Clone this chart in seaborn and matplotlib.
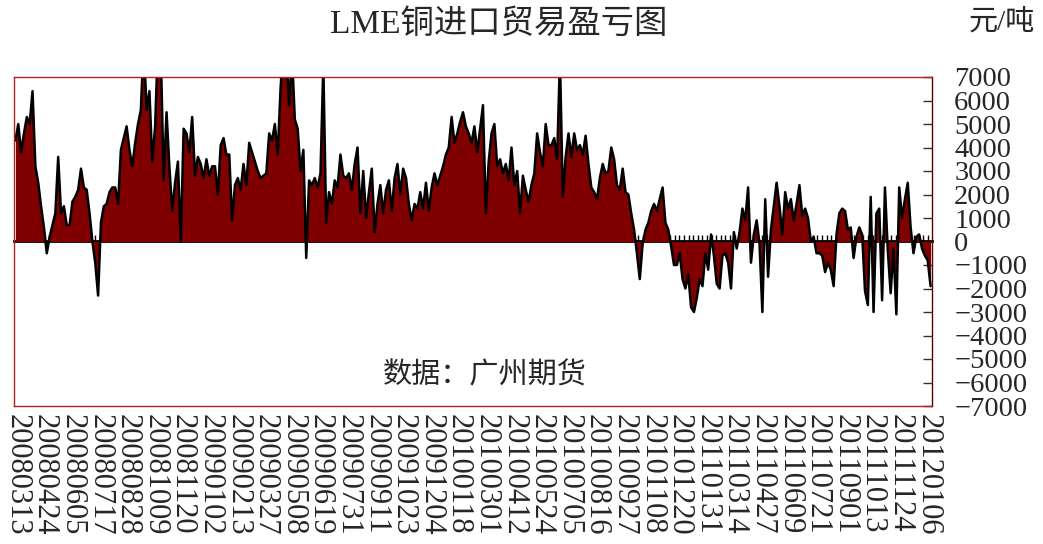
import numpy as np
import matplotlib
matplotlib.use('Agg')
import matplotlib.pyplot as plt
import seaborn as sns

# dates shown on the x axis (one every 30 trading days)
tick_dates = ['20080313', '20080424', '20080605', '20080717', '20080828', '20081009',
              '20081120', '20090102', '20090213', '20090327', '20090508', '20090619',
              '20090731', '20090911', '20091023', '20091204', '20100118', '20100301',
              '20100412', '20100524', '20100705', '20100816', '20100927', '20101108',
              '20101220', '20110131', '20110314', '20110427', '20110609', '20110721',
              '20110901', '20111013', '20111124', '20120106']

# import profit / loss, yuan per ton (about every 3 trading days)
profit = [
    4300, 5000, 3800, 4600, 5300, 5000, 6400, 3200, 2500, 1500,
    600, -500, 200, 700, 1200, 3600, 1200, 1500, 700, 700,
    1700, 1900, 2200, 3100, 2300, 2200, 1200, 0, -900, -2300,
    800, 1500, 1600, 2100, 2300, 2300, 1600, 3900, 4400, 4900,
    3900, 3200, 4200, 5000, 5600, 8500, 5600, 6400, 3400, 4900,
    8500, 8000, 2600, 5500, 3200, 1300, 2500, 3400, 0, 4800,
    4600, 3800, 5300, 2800, 3600, 3300, 2700, 3500, 2800, 3200,
    3200, 2000, 4100, 4400, 3700, 3700, 900, 2400, 2700, 2200,
    3300, 2400, 4200, 3800, 3400, 3000, 2700, 2800, 2900, 4600,
    4300, 5000, 3700, 6500, 8500, 8000, 5800, 8000, 5200, 4800,
    3000, 3900, -700, 2600, 2400, 2700, 2300, 2900, 7500, 800,
    2100, 1600, 2600, 2300, 3700, 2800, 2700, 2900, 2200, 3300,
    4000, 1200, 3000, 1000, 2100, 3100, 400, 1600, 2400, 1200,
    2200, 2600, 1300, 2700, 3300, 2000, 3100, 2700, 1600, 900,
    1600, 1400, 2100, 1400, 2500, 1300, 2300, 2900, 2400, 2800,
    3200, 3700, 4000, 5300, 4200, 4600, 5100, 5500, 4900, 4600,
    4200, 4900, 3800, 4800, 5800, 1200, 3400, 4600, 5000, 3200,
    3500, 2900, 3300, 2600, 4000, 2400, 3000, 1200, 2800, 2200,
    1700, 2400, 2900, 4600, 3800, 3200, 5000, 4100, 4100, 4400,
    3500, 7800, 1900, 3600, 4600, 3600, 4600, 3900, 4100, 3700,
    4500, 3300, 2300, 2100, 1800, 2700, 3300, 2900, 3000, 4000,
    3500, 2400, 2200, 3100, 2100, 2000, 1200, 500, -500, -1600,
    -100, 500, 800, 1300, 1600, 1300, 1800, 2300, 800, 500,
    -200, -1000, -1000, -500, -1600, -2000, -1400, -2800, -3000, -2400,
    -1600, -1900, -500, -1200, 300, -600, -1800, -2000, -600, -500,
    -900, -2000, 400, -300, 400, 1400, 900, 2300, -900, 300,
    900, -100, -3000, 1800, -1500, 500, 1500, 2500, 1500, 300,
    2100, 1400, 1800, 900, 1600, 2400, 1100, 1400, 1000, 0,
    200, -500, -500, -600, -1300, -900, -1200, -1900, 300, 1200,
    1400, 1300, 500, 600, -700, 200, 600, 300, -2100, -2700,
    1900, -3000, 1200, 1400, -2500, 2300, -400, -2200, -300, -3100,
    2300, 1000, 1800, 2500, 600, -500, 200, 300, -300, -600,
    -800, -1900,
]

sns.set_style('white')
plt.rcParams['font.family'] = ['Liberation Serif', 'Noto Sans CJK SC']
plt.rcParams['axes.unicode_minus'] = True

idx = np.arange(len(profit))
# label positions: evenly spread, last one a little before the end
label_pos = np.linspace(0.5, len(profit) - 2, len(tick_dates))
step = label_pos[1] - label_pos[0]

fig = plt.figure(figsize=(10.43, 5.44), dpi=100)
ax = fig.add_axes([14 / 1043, 1 - 406 / 544, 918 / 1043, 329 / 544])

ax.fill_between(idx, 0, profit, color='#800000', lw=0)
sns.lineplot(x=idx, y=profit, color='black', lw=1.8, ax=ax)

ax.set_xlim(-0.5, len(profit) - 0.5)
ax.set_ylim(-7000, 7000)
ax.set_yticks(np.arange(-7000, 7001, 1000))
ax.yaxis.tick_right()
ax.tick_params(axis='y', direction='in', length=6.5, width=1, color='#333333',
               pad=16, labelsize=20.5)
ax.set_xticks(label_pos)
ax.set_xticklabels(tick_dates, rotation=-90, fontsize=22)
ax.tick_params(axis='x', length=0, pad=6)
ax.set_xlabel('')
ax.set_ylabel('')

for s in ax.spines.values():
    s.set_color('#b22222')
    s.set_linewidth(1)
ax.spines['right'].set_color('#5a0000')

# zero line with little ticks every 5 trading days
zero = ax.secondary_xaxis(0.5)
zero.set_xticks(np.arange(label_pos[0], len(profit), step / 6))
zero.tick_params(direction='out', length=4.5, width=1, color='black',
                 labeltop=False, labelbottom=False)
for s in zero.spines.values():
    s.set_color('black')
    s.set_linewidth(2)

fig.text(499 / 1043, 1 - 25 / 544, 'LME铜进口贸易盈亏图', ha='center', va='center', fontsize=24)
fig.text(1002 / 1043, 1 - 22 / 544, '元/吨', ha='center', va='center', fontsize=21)
fig.text(485 / 1043, 1 - 376 / 544, '数据：广州期货', ha='center', va='center', fontsize=21)

fig.savefig('out.png', dpi=100)
